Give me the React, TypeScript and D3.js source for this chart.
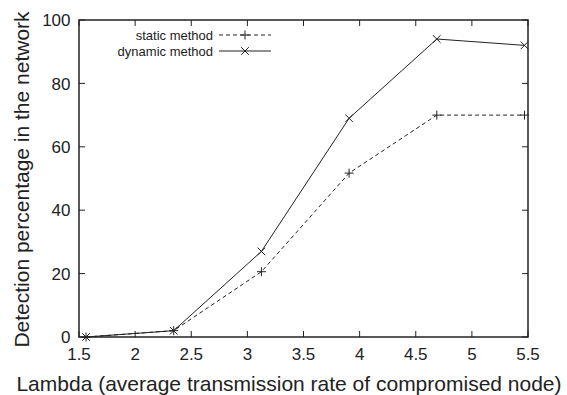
import React from "react";
import * as d3 from "d3";

const lambdas = [1.5625, 2.34375, 3.125, 3.90625, 4.6875, 5.46875];
const staticValues = [0, 2, 20.6, 51.7, 70, 70];
const dynamicValues = [0, 2, 27, 69, 94, 92];
const xTicks = [1.5, 2, 2.5, 3, 3.5, 4, 4.5, 5, 5.5];
const yTicks = [0, 20, 40, 60, 80, 100];
const seriesNames = ["static method", "dynamic method"];
const xTitle = "Lambda (average transmission rate of compromised node)";
const yTitle = "Detection percentage in the network";

const W = 567;
const H = 395;
const M = { left: 79, right: 528, top: 20, bottom: 337 };
const FONT = "'Liberation Sans', Arial, Helvetica, sans-serif";
const INK = "#222";

function Plus({ x, y, s = 4.5 }: { x: number; y: number; s?: number }) {
  return (
    <g stroke={INK} strokeWidth={1}>
      <line x1={x - s} x2={x + s} y1={y} y2={y} />
      <line x1={x} x2={x} y1={y - s} y2={y + s} />
    </g>
  );
}
function Cross({ x, y, s = 3.8 }: { x: number; y: number; s?: number }) {
  return (
    <g stroke={INK} strokeWidth={1}>
      <line x1={x - s} x2={x + s} y1={y - s} y2={y + s} />
      <line x1={x - s} x2={x + s} y1={y + s} y2={y - s} />
    </g>
  );
}

export default function App() {
  const x = d3.scaleLinear().domain([1.5, 5.5]).range([M.left, M.right]);
  const y = d3.scaleLinear().domain([0, 100]).range([M.bottom, M.top]);
  const line = d3
    .line<[number, number]>()
    .x((d) => x(d[0]))
    .y((d) => y(d[1]));
  const sData = lambdas.map((l, i) => [l, staticValues[i]] as [number, number]);
  const dData = lambdas.map((l, i) => [l, dynamicValues[i]] as [number, number]);
  const tl = 6;
  const legX = 213;
  const legL1 = 219;
  const legL2 = 271;
  const legY = [35, 51];

  return (
    <svg
      width={W}
      height={H}
      style={{ position: "absolute", left: 0, top: 0, background: "#fff" }}
      fontFamily={FONT}
    >
      <rect x={0} y={0} width={W} height={H} fill="#fff" />
      {/* ticks */}
      {xTicks.map((t) => (
        <g key={"xt" + t} stroke={INK} strokeWidth={1}>
          <line x1={x(t)} x2={x(t)} y1={M.bottom} y2={M.bottom - tl} />
          <line x1={x(t)} x2={x(t)} y1={M.top} y2={M.top + tl} />
        </g>
      ))}
      {yTicks.map((t) => (
        <g key={"yt" + t} stroke={INK} strokeWidth={1}>
          <line x1={M.left} x2={M.left + tl} y1={y(t)} y2={y(t)} />
          <line x1={M.right} x2={M.right - tl} y1={y(t)} y2={y(t)} />
        </g>
      ))}
      <rect
        x={M.left}
        y={M.top}
        width={M.right - M.left}
        height={M.bottom - M.top}
        fill="none"
        stroke={INK}
        strokeWidth={1.5}
      />
      {/* tick labels */}
      {xTicks.map((t) => (
        <text key={"xl" + t} x={x(t)} y={359.5} fontSize={17} textAnchor="middle" fill={INK}>
          {String(t)}
        </text>
      ))}
      {yTicks.map((t) => (
        <text key={"yl" + t} x={70.5} y={y(t) + 6.2} fontSize={17} textAnchor="end" fill={INK}>
          {String(t)}
        </text>
      ))}
      {/* titles */}
      <text x={289} y={391} fontSize={21} textAnchor="middle" fill={INK}>
        {xTitle}
      </text>
      <text
        transform={`translate(28.5,179.5) rotate(-90)`}
        fontSize={21}
        textAnchor="middle"
        fill={INK}
      >
        {yTitle}
      </text>
      {/* series */}
      <path d={line(sData) || ""} fill="none" stroke={INK} strokeWidth={1} strokeDasharray="4,3" />
      <path d={line(dData) || ""} fill="none" stroke={INK} strokeWidth={1} />
      {sData.map((d, i) => (
        <Plus key={"sp" + i} x={x(d[0])} y={y(d[1])} />
      ))}
      {dData.map((d, i) => (
        <Cross key={"dp" + i} x={x(d[0])} y={y(d[1])} />
      ))}
      {/* legend */}
      <text x={legX} y={legY[0] + 4.5} fontSize={13} textAnchor="end" fill={INK}>
        {seriesNames[0]}
      </text>
      <line x1={legL1} x2={legL2} y1={legY[0]} y2={legY[0]} stroke={INK} strokeWidth={1} strokeDasharray="4,3" />
      <Plus x={(legL1 + legL2) / 2} y={legY[0]} />
      <text x={legX} y={legY[1] + 4.5} fontSize={13} textAnchor="end" fill={INK}>
        {seriesNames[1]}
      </text>
      <line x1={legL1} x2={legL2} y1={legY[1]} y2={legY[1]} stroke={INK} strokeWidth={1} />
      <Cross x={(legL1 + legL2) / 2} y={legY[1]} />
    </svg>
  );
}
